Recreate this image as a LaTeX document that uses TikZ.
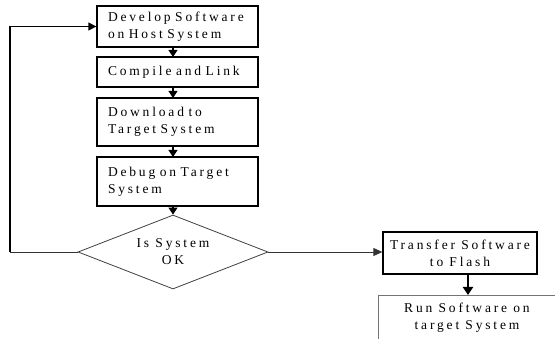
\documentclass[tikz,border=0pt]{standalone}
\usepackage{fontspec}
\setmainfont{Liberation Serif}[LetterSpace=21]
\usetikzlibrary{arrows.meta,shapes.geometric}
\begin{document}
\begin{tikzpicture}[x=1pt,y=-1pt,
  every node/.style={font=\fontsize{13.5}{17}\selectfont},
  lbox/.style={draw=black,line width=1.3pt,minimum width=161pt,text width=139pt,align=left,inner sep=0pt,anchor=center},
  rbox/.style={draw=black,line width=1.3pt,align=center,inner sep=0pt,anchor=center},
  dia/.style={draw=black!75,line width=0.8pt,diamond,aspect=2.57,minimum width=190pt,minimum height=74pt,inner sep=0pt,align=center},
  conn/.style={line width=1.2pt,-{Triangle[length=7pt,width=9pt]}},
  flow/.style={line width=0.8pt,draw=black!80}]
\useasboundingbox (0,0) rectangle (555,339);
\node[lbox,minimum height=41pt] (b1) at (177.5,26.5) {Develop Software\\on Host System};
\node[lbox,minimum height=30pt] (b2) at (177.5,72) {Compile and Link};
\node[lbox,minimum height=48pt] (b3) at (177.5,122) {Download to\\Target System};
\node[lbox,minimum height=49pt] (b4) at (177.5,181.5) {Debug on Target\\System};
\node[dia] (d) at (173,252) {Is System\\OK};
\node[rbox,minimum width=154pt,minimum height=42pt] (b5) at (460,253) {Transfer Software\\to Flash};
\node[rbox,draw=black!55,line width=0.8pt,minimum width=178pt,minimum height=45pt] (b6) at (467,317.5) {Run Software on\\target System};
\coordinate (a1) at (173,47);
\coordinate (a2) at (173,87);
\coordinate (a3) at (173,146);
\coordinate (a4) at (173,206);
\draw[conn] (a1) -- (173,57);
\draw[conn] (a2) -- (173,98);
\draw[conn] (a3) -- (173,157);
\draw[conn] (a4) -- (d.north);
\coordinate (l1) at (10,252);
\coordinate (l2) at (10,26.5);
\draw[flow] (d.west) -- (l1);
\draw[line width=1.3pt] (l1) -- (l2);
\draw[line width=1.3pt,-{Triangle[length=8pt,width=8pt]}] (l2) -- (b1.west);
\draw[flow,-{Triangle[length=9pt,width=8pt]}] (d.east) -- (b5.west |- d.east);
\draw[line width=2pt,-{Triangle[length=8pt,width=10pt]}] (468,274) -- (468,295);
\end{tikzpicture}
\end{document}
